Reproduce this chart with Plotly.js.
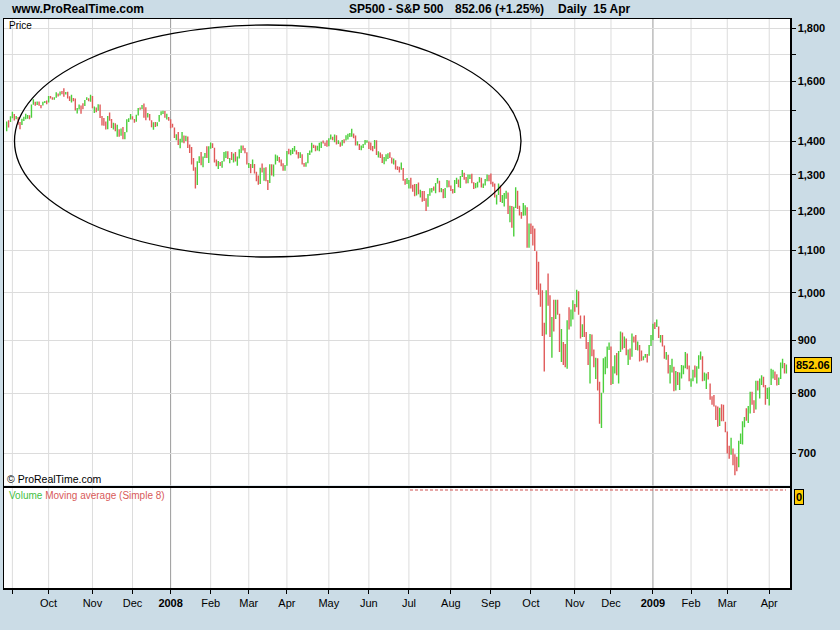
<!DOCTYPE html>
<html><head><meta charset="utf-8">
<script src="https://cdn.plot.ly/plotly-3.0.1.min.js"></script>
<style>html,body{margin:0;padding:0;background:#cbdce6;}#chart{width:840px;height:630px;}</style>
</head><body><div id="chart"></div>
<script>
// ---- DATA (S&P 500 daily, 29 Aug 2007 .. 15 Apr 2009) ----
const symbol = 'SP500 - S&P 500';
const period = 'Daily';
const firstDay = '2007-08-29';
const holidays = ['2007-09-03','2007-11-22','2007-12-25','2008-01-01','2008-01-21','2008-02-18','2008-03-21',
  '2008-05-26','2008-07-04','2008-09-01','2008-11-27','2008-12-25','2009-01-01','2009-01-19','2009-02-16','2009-04-10'];
const monthLabels = ['', 'Oct','Nov','Dec','2008','Feb','Mar','Apr','May','Jun','Jul','Aug','Sep','Oct','Nov','Dec','2009','Feb','Mar','Apr'];
const priceTicks = [700,800,900,1000,1100,1200,1300,1400,1500,1600,1700,1800];
const priceTickText = ['700','800','900','1,000','1,100','1,200','1,300','1,400','','1,600','','1,800'];

const open = [
1432,1464,1458,
1474,1489,1472,1479,1454,1452,1471,1472,1483.5,1484,1477,1520,1529,1519,1526,1518,1517,1525,1531,
1527,1547.5,1547,1540,1543,1558,1553,1565,1562,1554,1562,1549,1539,1541,1540,1501,1506,1520,1516,1514,1535,1541,1531,
1549,1508,1510,1502,1520,1476,1475,1454,1439,1481,1471,1451,1459,1433,1440,1417,1441,1407,1428,1469,1470,
1481,1472,1463,1485,1507,1505,1516,1488,1487,1488,1468,1446,1455,1453,1460,1484,1496,1498,1476,1478,
1468,1447.5,1447,1412,1416,1390,1409,1420,1401,1416,1381,1373,1333,1325,1311,1339,1352,1331,1354,1362,1356,
1379,1395,1381,1337,1326,1337,1331,1339,1349,1367,1349,1350,1349,1360,1343,1353,1372,1381,1380,1368,
1330.5,1331,1327,1334,1304,1293,1273,1321,1309,1315,1288,1277,1331,1298,1330,1350,1353,1341,1326,1315,
1323,1370,1368,1369,1370,1373,1366,1354,1361,1333,1328,1334,1365,1366,1390,1388,1376,1380,1389,1398,1396,1391,
1386,1409,1414,1407,1418,1393,1398,1388,1404,1403,1409,1424,1425,1427,1413,1391,1394,1376,1385,1391,1398,
1400,1386,1378,1377,1404,1361,1362,1358,1335,1340,1358,1360,1351,1338,1343,1319.5,1318,1314,1322,1283,1278,
1276,1285,1263.5,1263,1252,1274,1245,1253,1239,1228,1215,1245,1260,1261,1260,1277,1282,1253,1258,1234,1263,1284,
1267,1260,1249,1285,1289,1266,1296,1305,1290,1286,1293,1298,1279,1267,1275,1278,1292,1267,1272,1282,1301,
1283,1278,1275,1237,1242,1268,1225,1232,1249,1252,1193,1214,1156,1207,1255,1207,1188,1186,1209,1213,1106,
1166,1161,1114,1099,1057,996,985,910,899,1003,998,908,946,941,985,955,897,908,877,849,941,930,954,
969,966,1006,953,905,931,919,899,852,911,873,851,859,807,752,800,852,857,888,
896,816,849,871,845,876,910,889,899,874,880,869,913,904,885,888,872,863,868,873,869,891,
903,932,927,935,907,910,890,870,872,843,844,850,805,840,828,832,837,846,874,845,
823,825,839,832,846,869,870,827,834,835,827,789,788,779,770,743,773,765,753,
735,701,696,713,684.3,683.4,677,720,721,751,757,754,778,794,784,769,823,806,814,833,816,788,
798,811,834,843,835,816,825,857,859,841.5
];
const high = [
1464,1468,1481,
1496,1488,1482,1478,1462,1473,1479,1489,1485,1484,1520,1538,1529,1530,1530,1518,1529,1532,1534,
1549,1549,1545,1545,1562,1558,1565,1566,1576,1563,1564,1548,1553,1542,1540,1508,1520,1517,1524,1535,1545,1541,1553,
1549,1513,1510,1521,1520,1482,1475,1464,1482,1493,1472,1460,1458,1453,1439,1441,1446,1430,1471,1474,1488,
1481,1472,1486,1508,1510,1518,1523,1511,1492,1488,1468,1461,1462,1461,1485,1497,1499,1498,1489,1478,
1471,1456,1444,1423,1430,1409,1430,1419,1418,1416,1391,1383,1350,1322,1340,1355,1368,1354,1365,1385,1385,
1397,1395,1381,1345,1341,1338,1341,1368,1370,1370,1350,1368,1363,1368,1354,1376,1388,1388,1380,1367,
1335,1332,1345,1332,1309,1298,1321,1333,1321,1322,1285,1331,1331,1330,1360,1357,1353,1345,1334,1329,
1371,1378,1375,1380,1386,1373,1368,1367,1361,1335,1337,1365,1372,1396,1390,1388,1387,1396,1399,1403,1397,1404,
1410,1422,1415,1422,1420,1404,1398,1405,1407,1420,1424,1427,1440,1425,1419,1401,1392,1388,1392,1405,1404,
1400,1397,1386,1405,1404,1370,1366,1361,1353,1361,1364,1367,1351,1348,1343,1325,1324,1336,1320,1288,1291,
1285,1292,1272,1274,1274,1278,1258,1254,1254,1234,1246,1262,1263,1267,1277,1291,1283,1263,1260,1263,1285,1284,
1270,1260,1285,1292,1287,1297,1314,1306,1294,1301,1301,1303,1279,1277,1280,1294,1292,1275,1288,1301,1300,
1304,1280,1275,1244,1275,1270,1243,1249,1255,1250,1214,1213,1211,1265,1255,1214,1197,1221,1215,1210,1167,
1167,1161,1154,1097,1072,1021,1006,936,1006,1044,995,948,985,985,985,955,923,897,893,941,969,964,984,
976,1007,1004,951,933,951,917,897,913,912,882,866,865,821,801,865,868,888,896,
888,850,871,875,879,918,916,908,904,882,884,914,908,911,898,891,880,869,873,873,891,911,
934,937,943,928,911,911,890,877,872,852,864,849,841,839,838,852,851,877,874,851,
827,843,851,850,871,878,869,838,836,839,818,795,797,779,777,775,781,780,751,
735,712,725,708,699,695,720,732,752,759,774,778,803,803,788,823,823,827,833,830,815,810,
811,845,843,840,835,829,857,864,856,853
];
const low = [
1432,1444,1462,
1474,1467,1471,1453,1439,1452,1465,1471,1473,1471,1476,1519,1516,1518,1516,1507,1517,1525,1521,
1527,1540,1536,1536,1543,1547,1551,1555,1546,1554,1540,1532,1527,1531,1500,1490,1503,1489,1504,1515,1535,1531,1529,
1507,1492,1494,1499,1475,1451,1450,1438,1439,1466,1443,1438,1432,1415,1415,1418,1407,1407,1429,1462,1470,
1470,1460,1463,1483,1502,1504,1476,1468,1477,1467,1445,1437,1446,1448,1463,1484,1488,1476,1470,1466,
1442,1444,1411,1404,1389,1379,1397,1395,1402,1380,1365,1330,1312,1261,1271,1335,1328,1322,1350,1350,1335,
1378,1380,1336,1325,1317,1326,1321,1339,1350,1347,1334,1344,1336,1339,1327,1348,1365,1372,1364,1330,
1320,1305,1320,1304,1282,1272,1274,1307,1283,1282,1257,1277,1298,1295,1330,1341,1336,1325,1312,1312,
1327,1361,1358,1362,1369,1360,1348,1350,1330,1324,1324,1334,1359,1366,1380,1370,1372,1370,1380,1394,1386,1384,
1385,1406,1404,1398,1391,1392,1384,1387,1395,1403,1406,1414,1415,1410,1388,1388,1374,1373,1380,1390,1396,
1377,1373,1370,1378,1359,1351,1350,1335,1331,1340,1347,1350,1333,1330,1316,1314,1307,1315,1283,1272,1274,
1261,1261,1252,1240,1242,1245,1236,1225,1227,1200,1211,1241,1250,1255,1248,1275,1251,1251,1234,1235,1264,1265,
1254,1247,1249,1274,1265,1263,1294,1286,1275,1276,1288,1276,1260,1262,1264,1278,1264,1263,1270,1282,1282,
1273,1266,1236,1217,1243,1224,1221,1212,1233,1192,1170,1156,1134,1208,1205,1188,1179,1187,1188,1106,1106,
1140,1111,1098,1007,996,970,909,840,912,972,907,866,918,944,953,877,858,852,848,845,922,928,943,
959,969,953,904,907,907,883,852,818,869,848,826,805,748,741,801,835,846,881,
815,817,836,833,818,877,882,885,871,852,862,868,896,881,880,859,860,861,866,857,870,889,
900,923,927,905,896,888,864,862,836,818,838,804,805,815,806,827,835,846,844,822,
812,822,829,818,845,862,822,823,808,825,789,780,777,754,743,744,752,752,734,
700,692,698,682,667,673,679,715,714,742,753,749,765,780,766,772,805,791,815,811,780,790,
779,815,827,824,814,815,826,846,836,836
];
const close = [
1464,1458,1474,
1489,1472,1479,1454,1452,1471,1472,1484,1484,1477,1520,1529,1519,1526,1518,1517,1525,1531,1527,
1547,1547,1540,1543,1558,1553,1565,1562,1554,1562,1549,1539,1541,1540,1501,1506,1520,1516,1514,1535,1541,1531,1549,
1508,1510,1502,1520,1476,1475,1454,1439,1481,1471,1451,1459,1433,1440,1417,1441,1407,1428,1469,1470,1481,
1472,1463,1485,1507,1505,1516,1478,1487,1488,1468,1446,1455,1453,1460,1484,1496,1498,1476,1478,1468,
1447,1447,1412,1416,1390,1409,1420,1401,1416,1381,1373,1333,1325,1311,1339,1352,1331,1354,1362,1356,1379,
1395,1381,1337,1326,1337,1331,1339,1349,1367,1349,1350,1349,1360,1343,1353,1372,1381,1380,1368,1331,
1331,1327,1334,1304,1293,1273,1321,1309,1315,1288,1277,1331,1298,1330,1350,1353,1341,1326,1315,1323,
1370,1368,1369,1370,1373,1366,1354,1361,1333,1328,1334,1365,1366,1390,1388,1376,1380,1389,1398,1396,1391,1386,
1409,1414,1407,1418,1393,1398,1388,1404,1403,1409,1424,1425,1427,1413,1391,1394,1376,1385,1391,1398,1400,
1386,1378,1377,1404,1361,1362,1358,1335,1340,1360,1360,1351,1338,1343,1318,1318,1314,1322,1283,1278,1280,
1285,1262,1263,1252,1274,1245,1253,1239,1228,1215,1245,1260,1261,1260,1277,1282,1253,1258,1234,1263,1284,1267,
1260,1249,1285,1289,1266,1296,1305,1290,1286,1293,1298,1279,1267,1275,1278,1292,1267,1272,1282,1301,1283,
1278,1275,1237,1242,1268,1225,1232,1249,1252,1193,1214,1156,1207,1255,1207,1188,1186,1209,1213,1106,1166,
1161,1114,1099,1057,996,985,910,899,1003,998,908,946,941,985,955,897,908,877,849,941,930,954,969,
966,1006,953,905,931,919,899,852,911,873,851,859,807,752,800,852,857,888,896,
816,849,871,845,876,910,889,899,874,880,869,913,904,885,888,872,863,868,873,869,891,903,
932,927,935,907,910,890,870,872,843,844,850,805,840,828,832,837,846,874,845,826,
825,839,832,846,869,870,827,834,835,827,789,788,779,770,743,773,765,753,735,
701,696,713,683,683.4,677,720,721,751,757,754,778,794,784,769,823,806,814,833,816,788,798,
811,834,843,835,816,825,857,859,841.5,852.06
];

// ---- trading calendar ----
function tradingDays(n) {
  const out = [];
  const d = new Date(firstDay + 'T00:00:00Z');
  while (out.length < n) {
    const dow = d.getUTCDay();
    const s = d.toISOString().slice(0, 10);
    if (dow !== 0 && dow !== 6 && !holidays.includes(s)) out.push(s);
    d.setUTCDate(d.getUTCDate() + 1);
  }
  return out;
}
const dates = tradingDays(close.length);
const idx = dates.map((_, i) => i);
const monthStarts = [];
for (let i = 1; i < dates.length; i++) if (dates[i].slice(0, 7) !== dates[i - 1].slice(0, 7)) monthStarts.push(i);
const isYear = t => /^\d{4}$/.test(t);
const tickText = monthLabels.map(t => isYear(t) ? '<b>' + t + '</b>' : t);

// ---- geometry helpers (pixel -> paper) ----
const W = 840, Ht = 630, ML = 4, MR = 50, MT = 19, MB = 42;
const PW = W - ML - MR, PH = Ht - MT - MB;
const px = x => (x - ML) / PW;
const py = y => (Ht - MB - y) / PH;
const priceDom = [py(485.5), 1], volDom = [0, py(488)];

const last = close[close.length - 1], prev = close[close.length - 2];
const chg = (last / prev - 1) * 100;
const mNames = ['Jan','Feb','Mar','Apr','May','Jun','Jul','Aug','Sep','Oct','Nov','Dec'];
const ld = dates[dates.length - 1];
const lastDateTxt = parseInt(ld.slice(8, 10), 10) + ' ' + mNames[parseInt(ld.slice(5, 7), 10) - 1];

const FONT = 'Liberation Sans, Arial, sans-serif';
const GREEN = '#4ccf3c', RED = '#e05a5a', GRID = '#dcdcdc';

const traces = [
  { type: 'ohlc', x: idx, open: open, high: high, low: low, close: close,
    xaxis: 'x', yaxis: 'y', tickwidth: 0, hoverinfo: 'none', showlegend: false,
    increasing: { line: { color: GREEN, width: 1.4 } },
    decreasing: { line: { color: RED, width: 1.4 } } },
  { type: 'scatter', x: [], y: [], xaxis: 'x2', yaxis: 'y2', showlegend: false, hoverinfo: 'none' }
];

const xr = [-1.4, 410.9];
const axisLine = { showline: true, linecolor: '#000', linewidth: 1.5, mirror: true, zeroline: false };

// vertical month grid (darker at year starts), drawn under the bars
const shapes = [];
monthStarts.forEach((i, k) => {
  const col = isYear(monthLabels[k]) ? '#9a9a9a' : GRID;
  [['x', priceDom], ['x2', volDom]].forEach(([xa, dom]) => {
    shapes.push({ type: 'line', xref: xa, yref: 'paper', x0: i, x1: i, y0: dom[0], y1: dom[1], layer: 'below', line: { color: col, width: 1 } });
  });
});
shapes.push({ type: 'circle', xref: 'paper', yref: 'paper', x0: px(14.5), x1: px(521), y0: py(257), y1: py(25), layer: 'above', line: { color: '#000', width: 1.3 } });
shapes.push({ type: 'line', xref: 'paper', yref: 'paper', x0: px(410), x1: px(786), y0: py(490), y1: py(490), layer: 'above', line: { color: '#d05050', width: 1, dash: '3px,2px' } });

const ann = (text, x, y, extra) => Object.assign({ text, xref: 'paper', yref: 'paper', x: px(x), y: py(y), xanchor: 'left', yanchor: 'middle', showarrow: false, font: { family: FONT, size: 12, color: '#000' } }, extra || {});

const annotations = [
  ann('<b>www.ProRealTime.com</b>', 9, 9.5),
  ann('<b>' + symbol.replace('&', '&amp;') + '</b>', 347, 9.5),
  ann('<b>' + last.toFixed(2) + ' (' + (chg >= 0 ? '+' : '') + chg.toFixed(2) + '%)</b>', 453, 9.5),
  ann('<b>' + period + '&nbsp;&nbsp;' + lastDateTxt + '</b>', 556, 9.5),
  ann('Price', 7, 25, { font: { family: FONT, size: 10, color: '#000' } }),
  ann('© ProRealTime.com', 4.5, 479, { font: { family: FONT, size: 10.5, color: '#000' } }),
  ann('<span style="color:#44c044">Volume</span> <span style="color:#d85a5a">Moving average (Simple 8)</span>', 7, 495, { font: { family: FONT, size: 10, color: '#000' } }),
  { text: '<b>' + last.toFixed(2) + '</b>', xref: 'paper', yref: 'y', x: 1, xshift: 4, y: Math.log10(last), xanchor: 'left', yanchor: 'middle',
    showarrow: false, bgcolor: '#ffcc00', bordercolor: '#000', borderwidth: 1, borderpad: 1, font: { family: FONT, size: 11, color: '#000' } },
  { text: '<b>0</b>', xref: 'paper', yref: 'paper', x: 1, xshift: 4, y: py(497), xanchor: 'left', yanchor: 'middle',
    showarrow: false, bgcolor: '#ffcc00', bordercolor: '#000', borderwidth: 1, borderpad: 1, font: { family: FONT, size: 11, color: '#000' } }
];

const layout = {
  width: W, height: Ht, autosize: false,
  margin: { l: ML, r: MR, t: MT, b: MB, pad: 0 },
  paper_bgcolor: '#cbdce6', plot_bgcolor: '#ffffff',
  font: { family: FONT, size: 11, color: '#000' },
  hovermode: false, dragmode: false, showlegend: false,
  xaxis: Object.assign({ domain: [0, 1], anchor: 'y', range: xr, tickmode: 'array', tickvals: monthStarts, ticktext: tickText,
    showticklabels: false, ticks: '', showgrid: false, rangeslider: { visible: false }, fixedrange: true }, axisLine),
  yaxis: Object.assign({ domain: priceDom, anchor: 'x', type: 'log', range: [Math.log10(652), Math.log10(1838)], side: 'right',
    tickmode: 'array', tickvals: priceTicks, ticktext: priceTickText, ticks: 'outside', ticklen: 4, tickwidth: 1, tickcolor: '#000',
    tickfont: { family: FONT, size: 11, color: '#000', weight: 'bold' }, showgrid: true, gridcolor: GRID, gridwidth: 1, fixedrange: true }, axisLine),
  xaxis2: Object.assign({ domain: [0, 1], anchor: 'y2', range: xr, tickmode: 'array', tickvals: monthStarts, ticktext: tickText,
    ticks: 'outside', ticklen: 4, tickwidth: 1, tickcolor: '#000', tickfont: { family: FONT, size: 11, color: '#000' },
    showgrid: false, fixedrange: true }, axisLine),
  yaxis2: Object.assign({ domain: volDom, anchor: 'x2', range: [0, 1], side: 'right', showgrid: false, showticklabels: false,
    ticks: '', fixedrange: true }, axisLine),
  shapes: shapes,
  annotations: annotations
};

Plotly.newPlot('chart', traces, layout, { staticPlot: true, displayModeBar: false });
</script></body></html>
